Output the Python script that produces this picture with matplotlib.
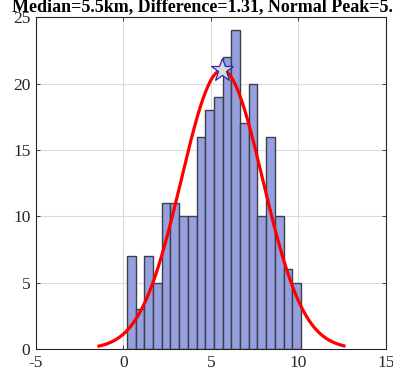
import numpy as np
import matplotlib
matplotlib.use("Agg")
import matplotlib.pyplot as plt

# histogram data (distance in km)
bin_start = 0.2
bin_width = 0.497
counts = [7, 3, 7, 5, 11, 11, 10, 10, 16, 18, 19, 22, 24, 17, 20, 10, 16, 10, 6, 5]

# fitted normal
mu = 5.63
sigma = 2.33
curve_lo, curve_hi = -1.4, 12.6

title = "Median=5.5km, Difference=1.31, Normal Peak=5.71"
xticks = [-5, 0, 5, 10, 15]
yticks = [0, 5, 10, 15, 20, 25]

plt.rcParams['font.family'] = ['Liberation Serif', 'DejaVu Serif']
plt.rcParams['axes.unicode_minus'] = False

fig = plt.figure(figsize=(3.93, 3.73), dpi=100)
ax = fig.add_axes([0.0916, 0.0643, 0.8905, 0.8897])

edges = bin_start + bin_width * np.arange(len(counts) + 1)
ax.bar(edges[:-1], counts, width=bin_width, align='edge',
       color='#96a0de', edgecolor='#3c3f4a', linewidth=1.0, zorder=2)

n = sum(counts)
x = np.linspace(curve_lo, curve_hi, 300)
y = n * bin_width * np.exp(-0.5 * ((x - mu) / sigma) ** 2) / (sigma * np.sqrt(2 * np.pi))
ax.plot(x, y, color='red', linewidth=2.3, zorder=3)
ax.plot([mu], [y.max()], marker='*', markersize=17, markerfacecolor='#d9d9d9',
        markeredgecolor='#2b2bb0', markeredgewidth=0.9, zorder=4)

ax.set_xlim(-5, 15)
ax.set_ylim(0, 25)
ax.set_xticks(xticks)
ax.set_yticks(yticks)
ax.grid(True, color='#dcdcdc', linewidth=0.8, zorder=0)
ax.set_axisbelow(True)
ax.tick_params(direction='in', top=True, right=True, length=3, width=0.6,
               labelsize=12.5, colors='#262626', pad=4)
for s in ax.spines.values():
    s.set_color('#262626')
    s.set_linewidth(0.8)

ax.set_title(title, fontsize=13, fontweight='bold', pad=4)

fig.savefig("out.png", dpi=100)
